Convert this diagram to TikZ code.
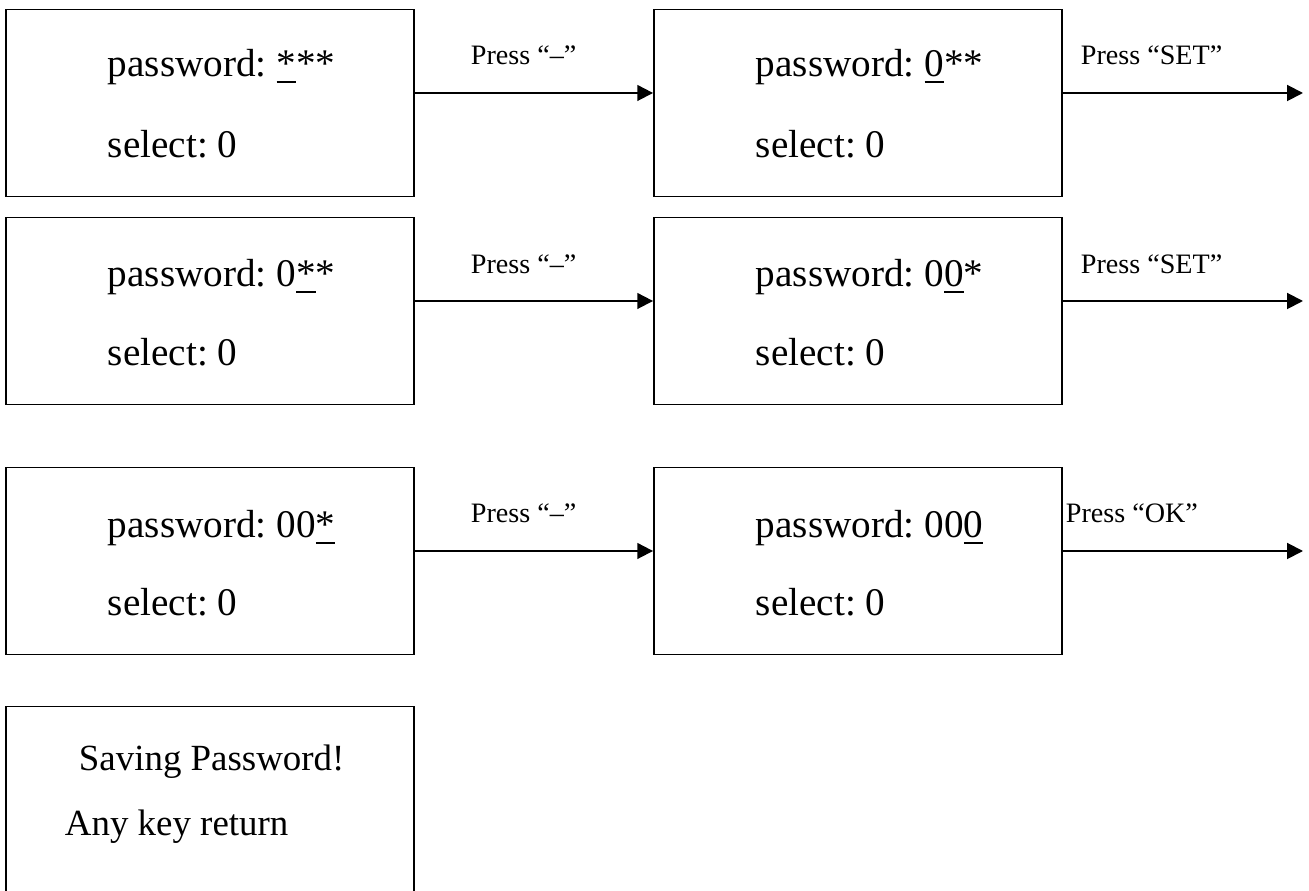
\documentclass[tikz,border=0pt]{standalone}
\usepackage{fontspec}
\setmainfont{Liberation Serif}
\usetikzlibrary{arrows.meta}
\frenchspacing

% underline one digit of the password
\newcommand{\curpos}[1]{\setbox0\hbox{#1}\rlap{\rule[-3.6pt]{\wd0}{1.1pt}}\box0}

\begin{document}
\begin{tikzpicture}
  [x=0.02cm, y=-0.02cm, line width=1.1pt,
   screen/.style={draw, rectangle, minimum width=8.16cm, minimum height=3.74cm, inner sep=0pt},
   line/.style={anchor=base west, inner sep=0pt, font=\fontsize{22.3}{26}\selectfont},
   key/.style={anchor=base west, inner sep=0pt, font=\fontsize{16}{19}\selectfont},
   go/.style={-{Triangle[length=9pt, width=9pt]}}]
  \useasboundingbox (0,0) rectangle (1309,891);

  % screens
  \node[screen] (s1a) at (210,103) {};
  \node[screen] (s1b) at (858,103) {};
  \node[screen] (s2a) at (210,311) {};
  \node[screen] (s2b) at (858,311) {};
  \node[screen] (s3a) at (210,561) {};
  \node[screen] (s3b) at (858,561) {};
  \node[screen] (save) at (210,800) {};

  \node[line] (p1a) at (107,77) {password: \curpos{*}**};
  \node[line] (q1a) at (107,158) {select: 0};
  \node[line] (p1b) at (755,77) {password: \curpos{0}**};
  \node[line] (q1b) at (755,158) {select: 0};
  \node[line] (p2a) at (107,287) {password: 0\curpos{*}*};
  \node[line] (q2a) at (107,366) {select: 0};
  \node[line] (p2b) at (755,287) {password: 0\curpos{0}*};
  \node[line] (q2b) at (755,366) {select: 0};
  \node[line] (p3a) at (107,538) {password: 00\curpos{*}};
  \node[line] (q3a) at (107,616) {select: 0};
  \node[line] (p3b) at (755,538) {password: 00\curpos{0}};
  \node[line] (q3b) at (755,616) {select: 0};
  \node[line, font=\fontsize{21}{25}\selectfont] (sv1) at (78,770) {Saving Password!};
  \node[line, font=\fontsize{21}{25}\selectfont] (sv2) at (64,835) {Any key return};

  % keys
  \coordinate (o1) at (1303,93);
  \coordinate (o2) at (1303,301);
  \coordinate (o3) at (1303,551);
  \draw[go] ([yshift=5.7pt]s1a.east) -- ([yshift=5.7pt]s1b.west);
  \draw[go] ([yshift=5.7pt]s1b.east) -- (o1);
  \draw[go] ([yshift=5.7pt]s2a.east) -- ([yshift=5.7pt]s2b.west);
  \draw[go] ([yshift=5.7pt]s2b.east) -- (o2);
  \draw[go] ([yshift=5.7pt]s3a.east) -- ([yshift=5.7pt]s3b.west);
  \draw[go] ([yshift=5.7pt]s3b.east) -- (o3);

  \node[key] (k1a) at (470,65) {Press “–”};
  \node[key] (k1b) at (1080,65) {Press “SET”};
  \node[key] (k2a) at (470,274) {Press “–”};
  \node[key] (k2b) at (1080,274) {Press “SET”};
  \node[key] (k3a) at (470,523) {Press “–”};
  \node[key] (k3b) at (1065,523) {Press “OK”};
\end{tikzpicture}
\end{document}
